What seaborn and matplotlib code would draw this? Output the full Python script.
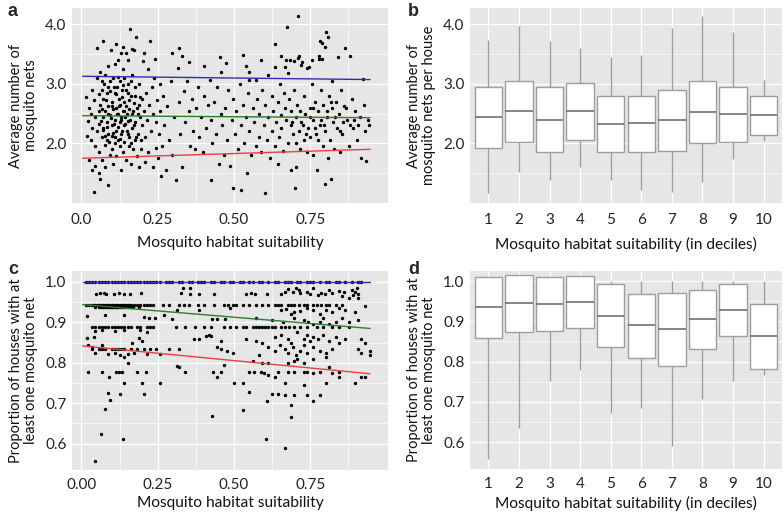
import numpy as np
import pandas as pd
import matplotlib
matplotlib.use('Agg')
import matplotlib.pyplot as plt
import seaborn as sns

sns.set_theme(style='darkgrid', rc={'axes.facecolor': '#e6e6e6', 'grid.color': 'white',
                                    'grid.linewidth': 0.9})
plt.rcParams['font.family'] = ['Lato', 'DejaVu Sans']

# ---------------- data ----------------
# panel a: habitat suitability vs average number of nets per house
pts_a = [
    (0.015, 2.77), (0.017, 2.12), (0.020, 2.38), (0.025, 2.6), (0.025, 1.72), (0.030, 2.5), (0.030, 2.05),
    (0.036, 2.9), (0.036, 1.55), (0.036, 2.26), (0.041, 1.18), (0.041, 2.72), (0.046, 1.62), (0.046, 2.44),
    (0.046, 1.95), (0.051, 3.6), (0.051, 2.2), (0.051, 3.1), (0.056, 2.82), (0.056, 1.85), (0.056, 2.55),
    (0.056, 1.5), (0.056, 2.32),
    (0.062, 1.4), (0.062, 3.2), (0.062, 2.65), (0.067, 2.1), (0.067, 2.9), (0.067, 3.05), (0.067, 1.72),
    (0.070, 3.72), (0.072, 2.45), (0.072, 2.25), (0.072, 2.75), (0.078, 1.98), (0.078, 3.15), (0.078, 2.55),
    (0.078, 1.6), (0.083, 2.35), (0.083, 2.85), (0.083, 2.05), (0.086, 3.3), (0.088, 1.31), (0.088, 2.62),
    (0.088, 2.15), (0.088, 2.95), (0.093, 1.8), (0.093, 2.48), (0.093, 3.05), (0.096, 3.56), (0.099, 2.3),
    (0.099, 2.7), (0.099, 1.9), (0.099, 2.12), (0.104, 2.58), (0.104, 3.1), (0.104, 1.65), (0.109, 2.4),
    (0.109, 2.85), (0.109, 2.0), (0.109, 3.33),
    (0.112, 3.67), (0.114, 2.6), (0.114, 2.2), (0.114, 1.78), (0.117, 2.95), (0.120, 2.5), (0.120, 3.4),
    (0.120, 2.05), (0.122, 2.75), (0.125, 1.95), (0.125, 2.35), (0.125, 3.05), (0.128, 2.65), (0.130, 3.52),
    (0.130, 2.15), (0.130, 2.45), (0.130, 1.55), (0.133, 2.9), (0.135, 2.55), (0.135, 3.25), (0.135, 1.85),
    (0.137, 3.61), (0.138, 2.3), (0.141, 2.7), (0.141, 2.02), (0.141, 3.1), (0.144, 2.45), (0.146, 3.52),
    (0.146, 2.62), (0.146, 1.72), (0.149, 2.2), (0.151, 2.85), (0.151, 3.0), (0.151, 2.38), (0.153, 3.4),
    (0.156, 1.95), (0.156, 2.58), (0.156, 2.1), (0.159, 3.92), (0.162, 2.8), (0.162, 1.65),
    (0.165, 3.59), (0.167, 2.25), (0.167, 2.5), (0.167, 3.15), (0.170, 1.9), (0.172, 3.56), (0.172, 2.68),
    (0.174, 2.05), (0.177, 2.95), (0.177, 2.35), (0.180, 3.78), (0.183, 1.78), (0.183, 2.6), (0.185, 2.15),
    (0.188, 3.0), (0.188, 1.6), (0.191, 2.45), (0.193, 2.78), (0.195, 1.9), (0.198, 2.3), (0.201, 3.38),
    (0.204, 2.55), (0.206, 3.52), (0.209, 2.1), (0.209, 1.68), (0.212, 2.85),
    (0.064, 2.38), (0.066, 2.58), (0.069, 2.22), (0.074, 3.0), (0.076, 2.12), (0.081, 2.72), (0.084, 2.28),
    (0.087, 2.5), (0.091, 2.02), (0.095, 2.88), (0.097, 2.42), (0.101, 2.62), (0.103, 2.18), (0.106, 2.95),
    (0.108, 2.33), (0.111, 2.1), (0.113, 2.82), (0.116, 2.5), (0.119, 2.27), (0.121, 3.12), (0.124, 2.62),
    (0.127, 2.08), (0.129, 2.4), (0.132, 2.78), (0.134, 2.2), (0.136, 2.98), (0.139, 2.55), (0.142, 2.32),
    (0.145, 2.9), (0.148, 2.5), (0.152, 2.15), (0.155, 2.72), (0.158, 2.4), (0.161, 3.05), (0.164, 2.0),
    (0.168, 2.55), (0.171, 2.3), (0.176, 2.8), (0.179, 2.1), (0.186, 2.5), (0.190, 2.65), (0.196, 2.05),
    (0.200, 2.75),
    (0.214, 2.4), (0.217, 3.25), (0.219, 1.85), (0.221, 2.65), (0.225, 3.72), (0.227, 2.2), (0.230, 2.95),
    (0.233, 1.6), (0.235, 2.5), (0.237, 3.1), (0.240, 3.42), (0.243, 1.92), (0.246, 2.35), (0.248, 2.72),
    (0.251, 1.75), (0.254, 2.15), (0.256, 3.0), (0.259, 2.55), (0.261, 1.45), (0.264, 1.95), (0.267, 2.8),
    (0.272, 2.3), (0.277, 1.55), (0.282, 2.62), (0.288, 2.05), (0.293, 3.05), (0.298, 3.52), (0.298, 1.8),
    (0.303, 2.45), (0.309, 1.38), (0.315, 3.27), (0.319, 2.7), (0.321, 3.6), (0.324, 2.15), (0.330, 3.46),
    (0.330, 1.6), (0.335, 2.88), (0.340, 2.35), (0.345, 3.05), (0.351, 2.55), (0.354, 3.37), (0.356, 1.95),
    (0.361, 2.75), (0.366, 2.2), (0.372, 1.9),
    (0.377, 2.6), (0.382, 2.95), (0.387, 2.1), (0.393, 2.45), (0.398, 1.85), (0.403, 3.29), (0.403, 2.8),
    (0.408, 2.25), (0.414, 2.65), (0.421, 3.06), (0.424, 1.39), (0.424, 2.4), (0.429, 2.0), (0.435, 2.7),
    (0.440, 2.15), (0.445, 2.95), (0.450, 1.65), (0.453, 3.44), (0.456, 2.5), (0.456, 3.2), (0.461, 2.3),
    (0.466, 1.8), (0.471, 2.6), (0.473, 3.35), (0.477, 2.05),
    (0.482, 2.9), (0.487, 1.62), (0.492, 2.4), (0.498, 1.25), (0.498, 2.75), (0.503, 2.15), (0.508, 2.55),
    (0.513, 1.9), (0.519, 3.0), (0.524, 1.22), (0.524, 2.3), (0.529, 3.48), (0.529, 2.65), (0.534, 2.0),
    (0.540, 3.3), (0.540, 2.45), (0.544, 1.51), (0.545, 2.85), (0.550, 3.2), (0.550, 2.2), (0.550, 3.06),
    (0.555, 1.8), (0.561, 2.6), (0.566, 2.35), (0.571, 3.06), (0.571, 1.95), (0.576, 2.75), (0.582, 2.1),
    (0.582, 2.5),
    (0.587, 3.39), (0.588, 1.85), (0.592, 2.9), (0.597, 2.3), (0.603, 1.16), (0.603, 2.65), (0.608, 2.05),
    (0.613, 2.45), (0.613, 3.15), (0.618, 1.75), (0.624, 2.8), (0.624, 2.2), (0.629, 2.55), (0.634, 3.67),
    (0.634, 3.28), (0.634, 1.95), (0.639, 2.35), (0.645, 2.7), (0.645, 1.65), (0.647, 2.1), (0.650, 3.0),
    (0.653, 3.46), (0.655, 2.48), (0.655, 2.25), (0.660, 1.88), (0.663, 2.85), (0.666, 2.6), (0.668, 3.28),
    (0.671, 3.4), (0.671, 2.4), (0.673, 3.95), (0.676, 2.0), (0.678, 3.18), (0.681, 2.75), (0.683, 3.4),
    (0.687, 2.3), (0.687, 1.55), (0.687, 2.55),
    (0.692, 2.15), (0.697, 3.38), (0.697, 2.9), (0.699, 1.25), (0.702, 2.45), (0.705, 1.6), (0.708, 2.65),
    (0.710, 3.43), (0.711, 4.13), (0.713, 3.47), (0.713, 2.2), (0.718, 1.9), (0.719, 3.31), (0.721, 2.35),
    (0.724, 3.37), (0.729, 2.05), (0.729, 2.8), (0.734, 2.5), (0.739, 1.85), (0.740, 3.27), (0.742, 2.25),
    (0.745, 3.28), (0.750, 2.6), (0.750, 2.1), (0.755, 3.0), (0.756, 3.39), (0.760, 2.4), (0.760, 1.8),
    (0.765, 2.7), (0.768, 2.15), (0.771, 1.55), (0.776, 2.55), (0.780, 3.47), (0.780, 3.41), (0.781, 2.3),
    (0.783, 3.71), (0.786, 2.9), (0.787, 3.41), (0.789, 3.68), (0.792, 1.95), (0.792, 2.65),
    (0.797, 3.61), (0.797, 1.32), (0.800, 2.2), (0.802, 3.87), (0.804, 2.45), (0.807, 1.75), (0.808, 3.78),
    (0.813, 2.8), (0.815, 2.05), (0.818, 1.4), (0.821, 2.6), (0.823, 3.05), (0.825, 2.35), (0.828, 1.9),
    (0.834, 2.7), (0.839, 2.25), (0.842, 3.44), (0.844, 2.5), (0.849, 1.85), (0.852, 2.9), (0.855, 2.15),
    (0.860, 2.62), (0.865, 3.6), (0.870, 2.4), (0.876, 1.95), (0.882, 3.47), (0.886, 2.75), (0.891, 2.25),
    (0.897, 2.55), (0.902, 2.05), (0.907, 2.3), (0.912, 2.45), (0.918, 1.75), (0.922, 3.08), (0.926, 2.65),
    (0.928, 2.2), (0.933, 1.7), (0.939, 2.4), (0.944, 2.3),
    (0.690, 2.35), (0.703, 2.0), (0.715, 2.55), (0.727, 2.3), (0.737, 2.15), (0.748, 2.45), (0.758, 2.6),
    (0.766, 2.25), (0.775, 2.05), (0.784, 2.4), (0.795, 2.3), (0.806, 2.55), (0.817, 2.7), (0.830, 2.45),
    (0.846, 2.2), (0.858, 2.35), (0.868, 2.6), (0.880, 2.3), (0.893, 2.4),
]

# panel c: habitat suitability vs proportion of houses with >= 1 net
full_x = [0.015, 0.025, 0.036, 0.046, 0.056, 0.067, 0.078, 0.088, 0.099, 0.109, 0.12, 0.13, 0.141, 0.151,
          0.162, 0.172, 0.183, 0.193, 0.204, 0.214, 0.225, 0.235, 0.246, 0.256, 0.277, 0.288, 0.298, 0.319,
          0.33, 0.351, 0.361, 0.382, 0.393, 0.403, 0.424, 0.435, 0.456, 0.466, 0.487, 0.498, 0.519, 0.529,
          0.55, 0.561, 0.582, 0.592, 0.613, 0.634, 0.645, 0.666, 0.676, 0.687, 0.708, 0.718, 0.739, 0.75,
          0.76, 0.781, 0.802, 0.813, 0.834, 0.844, 0.865, 0.886, 0.907, 0.918]
row944_x = [0.015, 0.025, 0.036, 0.041, 0.046, 0.051, 0.056, 0.062, 0.067, 0.072, 0.078, 0.083, 0.088, 0.093,
            0.099, 0.104, 0.109, 0.114, 0.12, 0.125, 0.13, 0.135, 0.141, 0.146, 0.151, 0.156, 0.162, 0.172,
            0.183, 0.193, 0.204, 0.214, 0.225, 0.235, 0.267, 0.288, 0.319, 0.335, 0.351, 0.382, 0.403, 0.435,
            0.466, 0.482, 0.498, 0.508, 0.529, 0.55, 0.571, 0.592, 0.613, 0.634, 0.645, 0.655, 0.676, 0.687,
            0.697, 0.713, 0.729, 0.739, 0.76, 0.771, 0.786, 0.802, 0.813, 0.834, 0.855]
row938_x = [0.056, 0.062, 0.067, 0.072, 0.078, 0.083, 0.088, 0.093, 0.099, 0.104, 0.109, 0.114, 0.12,
            0.125, 0.13, 0.135, 0.141, 0.151, 0.162, 0.046, 0.07, 0.095, 0.118, 0.145, 0.17, 0.19]
row889_x = [0.036, 0.046, 0.056, 0.067, 0.078, 0.088, 0.099, 0.109, 0.12, 0.13, 0.141, 0.151, 0.162, 0.183,
            0.193, 0.214, 0.225, 0.235, 0.309, 0.34, 0.372, 0.403, 0.424, 0.466, 0.487, 0.508, 0.529, 0.54,
            0.561, 0.571, 0.582, 0.592, 0.603, 0.613, 0.624, 0.634, 0.655, 0.666, 0.681, 0.697, 0.718, 0.739,
            0.771, 0.792, 0.823, 0.844, 0.876]
row833_x = [0.036, 0.056, 0.067, 0.078, 0.099, 0.109, 0.12, 0.13, 0.141, 0.162, 0.183, 0.204, 0.225, 0.246]
pts_c = [
    (0.047, 0.97), (0.061, 0.972), (0.073, 0.972), (0.082, 0.97), (0.107, 0.97), (0.122, 0.972),
    (0.138, 0.971), (0.158, 0.969), (0.196, 0.972), (0.326, 0.973), (0.332, 0.984), (0.356, 0.984),
    (0.356, 0.97), (0.386, 0.971), (0.435, 0.969), (0.538, 0.97), (0.555, 0.972), (0.568, 0.97),
    (0.607, 0.971), (0.655, 0.97), (0.666, 0.975), (0.676, 0.982), (0.692, 0.975), (0.702, 0.985),
    (0.713, 0.98), (0.718, 0.972), (0.739, 0.975), (0.750, 0.97), (0.760, 0.985), (0.776, 0.968),
    (0.786, 0.972), (0.797, 0.97), (0.813, 0.98), (0.823, 0.972), (0.844, 0.978), (0.855, 0.965),
    (0.860, 0.975), (0.876, 0.96), (0.886, 0.98), (0.891, 0.968), (0.897, 0.975), (0.902, 0.985),
    (0.907, 0.96), (0.907, 0.97),
    (0.018, 0.916), (0.078, 0.918), (0.141, 0.918), (0.204, 0.913), (0.221, 0.91), (0.242, 0.91),
    (0.271, 0.918), (0.314, 0.93), (0.384, 0.93), (0.487, 0.935), (0.655, 0.93), (0.671, 0.932),
    (0.687, 0.92), (0.697, 0.925), (0.718, 0.928), (0.739, 0.935), (0.76, 0.93), (0.781, 0.92),
    (0.802, 0.93), (0.823, 0.925), (0.844, 0.935), (0.865, 0.93), (0.897, 0.925), (0.928, 0.94),
    (0.298, 0.909), (0.427, 0.908), (0.444, 0.908), (0.471, 0.908), (0.571, 0.91), (0.624, 0.905),
    (0.660, 0.9), (0.697, 0.91), (0.729, 0.905), (0.744, 0.9), (0.760, 0.895), (0.781, 0.9), (0.792, 0.91),
    (0.813, 0.895), (0.834, 0.9), (0.855, 0.91), (0.876, 0.9), (0.907, 0.905),
    (0.046, 0.878), (0.067, 0.882), (0.109, 0.878), (0.141, 0.88), (0.193, 0.882), (0.214, 0.875),
    (0.018, 0.861), (0.041, 0.865), (0.190, 0.861), (0.197, 0.855), (0.368, 0.858), (0.384, 0.858),
    (0.409, 0.866), (0.417, 0.868), (0.424, 0.866), (0.456, 0.855), (0.540, 0.86), (0.571, 0.855),
    (0.592, 0.85), (0.634, 0.865), (0.655, 0.87), (0.676, 0.86), (0.687, 0.85), (0.708, 0.875),
    (0.729, 0.86), (0.739, 0.87), (0.750, 0.855), (0.760, 0.865), (0.776, 0.86), (0.792, 0.87),
    (0.813, 0.855), (0.834, 0.865), (0.844, 0.85), (0.865, 0.86), (0.918, 0.86), (0.928, 0.85),
    (0.020, 0.845), (0.036, 0.838), (0.067, 0.845), (0.165, 0.848), (0.288, 0.833), (0.319, 0.833),
    (0.445, 0.84), (0.456, 0.835), (0.477, 0.83), (0.498, 0.825), (0.582, 0.82), (0.613, 0.84),
    (0.634, 0.83), (0.650, 0.845), (0.666, 0.835), (0.676, 0.825), (0.692, 0.84), (0.702, 0.82),
    (0.718, 0.83), (0.729, 0.845), (0.739, 0.825), (0.760, 0.84), (0.781, 0.83), (0.802, 0.825),
    (0.823, 0.835), (0.907, 0.835), (0.918, 0.825), (0.945, 0.83), (0.945, 0.82),
    (0.046, 0.824), (0.088, 0.822), (0.109, 0.825), (0.125, 0.82), (0.138, 0.815), (0.151, 0.822),
    (0.172, 0.825), (0.214, 0.822), (0.259, 0.822),
    (0.151, 0.8), (0.312, 0.793), (0.319, 0.79), (0.466, 0.795), (0.561, 0.805), (0.592, 0.8), (0.613, 0.8),
    (0.676, 0.8), (0.697, 0.805), (0.708, 0.81), (0.729, 0.8), (0.760, 0.81), (0.802, 0.815), (0.813, 0.79),
    (0.021, 0.778), (0.067, 0.778), (0.113, 0.778), (0.122, 0.778), (0.132, 0.778), (0.181, 0.778),
    (0.210, 0.778), (0.340, 0.778), (0.430, 0.778), (0.456, 0.778), (0.550, 0.778), (0.566, 0.778),
    (0.587, 0.778), (0.597, 0.774), (0.645, 0.778), (0.676, 0.778), (0.697, 0.778), (0.729, 0.778),
    (0.739, 0.778), (0.760, 0.775), (0.781, 0.778), (0.823, 0.775), (0.844, 0.778), (0.918, 0.765),
    (0.090, 0.764), (0.138, 0.751), (0.199, 0.751), (0.257, 0.751), (0.443, 0.764), (0.501, 0.751),
    (0.529, 0.75), (0.613, 0.77), (0.634, 0.765), (0.666, 0.75), (0.729, 0.745), (0.802, 0.75),
    (0.844, 0.765), (0.897, 0.75), (0.929, 0.765),
    (0.088, 0.725), (0.128, 0.724), (0.205, 0.724), (0.092, 0.708), (0.078, 0.687), (0.550, 0.727),
    (0.608, 0.706), (0.624, 0.724), (0.645, 0.724), (0.666, 0.72), (0.687, 0.695), (0.697, 0.72),
    (0.739, 0.72), (0.760, 0.705), (0.781, 0.72), (0.528, 0.683), (0.429, 0.669), (0.688, 0.667),
    (0.065, 0.625), (0.137, 0.611), (0.606, 0.611), (0.043, 0.557), (0.668, 0.589),
]
pts_c = ([(x, 1.0) for x in full_x] + [(x, 0.944) for x in row944_x] + [(x, 0.939) for x in row938_x]
         + [(x, 0.889) for x in row889_x] + [(x, 0.833) for x in row833_x] + pts_c)

# quantile regression lines (90%, 50%, 10%): intercept, slope
q_names = ['q90', 'q50', 'q10']
q_colors = ['#2f2fb3', '#2e7d32', '#e8403f']
q_int_a = [3.125, 2.465, 1.75]
q_slope_a = [-0.058, -0.037, 0.159]
q_int_c = [1.0, 0.944, 0.842]
q_slope_c = [0.0, -0.0624, -0.073]
q_xrange = [0.004, 0.946]

# panels b and d: boxplots by decile of habitat suitability
deciles = [str(i) for i in range(1, 11)]
b_min = [1.17, 1.52, 1.39, 1.60, 1.39, 1.22, 1.18, 1.35, 1.74, 2.04]
b_q1 = [1.93, 2.03, 1.85, 2.06, 1.85, 1.86, 1.88, 2.01, 2.03, 2.14]
b_med = [2.44, 2.55, 2.40, 2.54, 2.33, 2.34, 2.39, 2.52, 2.49, 2.47]
b_q3 = [2.94, 3.05, 2.95, 3.01, 2.80, 2.80, 2.89, 3.05, 2.95, 2.80]
b_max = [3.74, 3.96, 3.72, 3.60, 3.45, 3.48, 3.94, 4.13, 3.86, 3.06]

d_min = [0.557, 0.635, 0.752, 0.779, 0.671, 0.684, 0.590, 0.706, 0.752, 0.766]
d_q1 = [0.859, 0.874, 0.877, 0.884, 0.836, 0.810, 0.788, 0.830, 0.863, 0.782]
d_med = [0.936, 0.945, 0.944, 0.949, 0.914, 0.890, 0.880, 0.905, 0.929, 0.863]
d_q3 = [1.011, 1.015, 1.010, 1.012, 0.992, 0.969, 0.971, 0.978, 0.993, 0.942]
d_max = [1.011, 1.015, 1.010, 1.012, 1.0, 1.0, 1.0, 1.0, 1.0, 1.0]

x_title = 'Mosquito habitat suitability'
x_title_dec = 'Mosquito habitat suitability (in deciles)'
y_title_a = 'Average number of\nmosquito nets'
y_title_b = 'Average number of\nmosquito nets per house'
y_title_cd = 'Proportion of houses with at\nleast one mosquito net'


def box_frame(mins, q1s, meds, q3s, maxs):
    rows = []
    for dec, vals in zip(deciles, zip(mins, q1s, meds, q3s, maxs)):
        for v in vals:
            rows.append({'decile': dec, 'value': v})
    return pd.DataFrame(rows)


def style_axes(ax, xpad):
    ax.tick_params(axis='both', labelsize=11, colors='#222222', length=0)
    ax.tick_params(axis='x', pad=xpad)
    ax.tick_params(axis='y', pad=4)
    ax.grid(which='minor', color='white', linewidth=0.45)
    ax.grid(which='major', color='white', linewidth=0.9)
    for s in ax.spines.values():
        s.set_visible(False)


def scatter_panel(ax, pts, q_int, q_slope):
    df = pd.DataFrame(pts, columns=['suit', 'val'])
    sns.scatterplot(data=df, x='suit', y='val', color='black', s=6, linewidth=0, ax=ax, zorder=3)
    for name, col, b0, b1 in zip(q_names, q_colors, q_int, q_slope):
        xs = np.array(q_xrange)
        ax.plot(xs, b0 + b1 * xs, color=col, linewidth=1.0, zorder=4)
    ax.set_xlim(-0.031, 1.005)
    ax.set_xticks([0.0, 0.25, 0.5, 0.75])
    ax.set_xticks([0.125, 0.375, 0.625, 0.875], minor=True)


def box_panel(ax, df):
    sns.boxplot(data=df, x='decile', y='value', order=deciles, whis=(0, 100), width=0.9,
                color='white', linecolor='#9e9e9e', linewidth=1.0, fliersize=0,
                medianprops={'color': '#6f6f6f', 'linewidth': 1.2},
                capprops={'visible': False}, ax=ax)
    ax.xaxis.grid(True, color='white', linewidth=0.9)
    ax.set_xlim(-0.6, 9.6)


fig = plt.figure(figsize=(7.84, 5.16), dpi=100)
ax_a = fig.add_axes([72 / 784, 1 - 203 / 516, 316 / 784, 195 / 516])
ax_b = fig.add_axes([470 / 784, 1 - 203 / 516, 312 / 784, 195 / 516])
ax_c = fig.add_axes([72 / 784, 1 - 470 / 516, 316 / 784, 199 / 516])
ax_d = fig.add_axes([470 / 784, 1 - 469 / 516, 312 / 784, 198 / 516])

# a
scatter_panel(ax_a, pts_a, q_int_a, q_slope_a)
ax_a.set_ylim(1.0, 4.27)
ax_a.set_yticks([2.0, 3.0, 4.0])
ax_a.set_yticks([1.5, 2.5, 3.5], minor=True)
ax_a.set_xticklabels(['0.0', '0.25', '0.50', '0.75'])
ax_a.set_yticklabels(['2.0', '3.0', '4.0'])

# b
box_panel(ax_b, box_frame(b_min, b_q1, b_med, b_q3, b_max))
ax_b.set_ylim(1.0, 4.27)
ax_b.set_yticks([2.0, 3.0, 4.0])
ax_b.set_yticks([1.5, 2.5, 3.5], minor=True)
ax_b.set_yticklabels(['2.0', '3.0', '4.0'])

# c
scatter_panel(ax_c, pts_c, q_int_c, q_slope_c)
ax_c.set_ylim(0.535, 1.027)
ax_c.set_yticks([0.6, 0.7, 0.8, 0.9, 1.0])
ax_c.set_yticks([0.65, 0.75, 0.85, 0.95], minor=True)
ax_c.set_xticklabels(['0.00', '0.25', '0.50', '0.75'])
ax_c.set_yticklabels(['0.6', '0.7', '0.8', '0.9', '1.0'])

# d
box_panel(ax_d, box_frame(d_min, d_q1, d_med, d_q3, d_max))
ax_d.set_ylim(0.533, 1.025)
ax_d.set_yticks([0.6, 0.7, 0.8, 0.9, 1.0])
ax_d.set_yticks([0.65, 0.75, 0.85, 0.95], minor=True)
ax_d.set_yticklabels(['0.6', '0.7', '0.8', '0.9', '1.0'])

for ax, xt, yt, xpad, lpad in [(ax_a, x_title, y_title_a, 7, 7), (ax_b, x_title_dec, y_title_b, 7, 7),
                               (ax_c, x_title, y_title_cd, 6, 3), (ax_d, x_title_dec, y_title_cd, 6, 3)]:
    style_axes(ax, xpad)
    ax.set_xlabel(xt, fontsize=11.2, color='#111111', labelpad=lpad)
    ax.set_ylabel(yt, fontsize=10.5, color='#111111', labelpad=5, linespacing=1.1)

for lab, (px, py) in zip('abcd', [(8, 3), (408, 3), (8, 261), (408, 261)]):
    fig.text(px / 784, 1 - py / 516, lab, fontsize=13, fontweight='bold',
             family=['Liberation Sans', 'DejaVu Sans'], va='top', ha='left')

fig.savefig('out.png', dpi=100)
